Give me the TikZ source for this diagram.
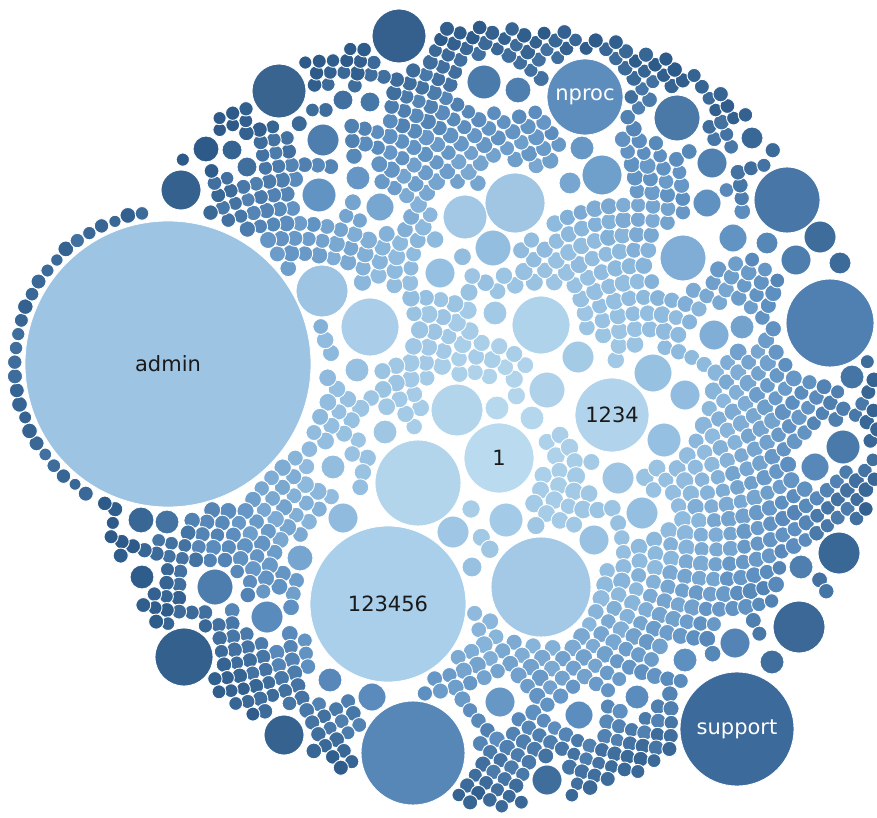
\documentclass[tikz,border=0pt]{standalone}
\usepackage{fontspec}
\setmainfont{DejaVu Sans}

% colour ramp from the light centre to the dark rim
\definecolor{gA}{HTML}{BADBEF}
\definecolor{gB}{HTML}{8DB9DD}
\definecolor{gC}{HTML}{5D8FC0}
\definecolor{gD}{HTML}{2D5A88}

\makeatletter
\newdimen\bbdx \newdimen\bbdy \newdimen\bbdd
\newif\ifbbhit
% does the circle (\px,\py) of radius \rs hit the circle #1,#2 of radius #3 ?
\newcommand\bbtest[3]{%
  \ifbbhit\else
    \bbdx=\dimexpr\px pt-#1pt\relax
    \ifdim\bbdx<0pt \bbdx=-\bbdx\fi
    \bbdd=\dimexpr#3pt+\rs pt+\bbgap pt\relax
    \ifdim\bbdx<\bbdd
      \bbdy=\dimexpr\py pt-#2pt\relax
      \ifdim\bbdy<0pt \bbdy=-\bbdy\fi
      \ifdim\bbdy<\bbdd
        \bbdx=0.25\bbdx \bbdy=0.25\bbdy \bbdd=0.25\bbdd
        \ifdim\dimexpr\strip@pt\bbdx\bbdx+\strip@pt\bbdy\bbdy\relax<\dimexpr\strip@pt\bbdd\bbdd\relax
          \global\bbhittrue
        \fi
      \fi
    \fi
  \fi}
\makeatother
\def\bbgap{1}

% shade for a relative distance #1 from the centre (0 = centre, 1 = rim)
\newcommand\pickshade[1]{%
  \pgfmathsetmacro\shT{min(max(#1,0),1)}%
  \ifdim\shT pt<0.5pt
    \pgfmathtruncatemacro\shP{200*\shT}\colorlet{shc}{gB!\shP!gA}%
  \else\ifdim\shT pt<0.75pt
    \pgfmathtruncatemacro\shP{400*(\shT-0.5)}\colorlet{shc}{gC!\shP!gB}%
  \else
    \pgfmathtruncatemacro\shP{400*(\shT-0.75)}\colorlet{shc}{gD!\shP!gC}%
  \fi\fi}

% labelled bubbles (also drawn as nodes below)
\newcommand\labelledbubbles{%
  \bbtest{168}{364}{143}\bbtest{388}{604}{78}\bbtest{499}{458}{35}%
  \bbtest{612}{415}{37}\bbtest{737}{729}{57}\bbtest{585}{97}{38}}

% large bubbles with their own colour
\newcommand\bigbubbles{%
  \bb{541}{587}{50}{A3C9E6}\bb{418}{483}{43}{B2D5EC}\bb{413}{753}{52}{5687B6}%
  \bb{830}{323}{44}{4F80B1}\bb{787}{200}{33}{4876A6}\bb{399}{36}{27}{35608E}%
  \bb{279}{91}{27}{38648F}\bb{184}{657}{29}{34608E}\bb{799}{627}{26}{3B6896}%
  \bb{541}{325}{29}{B0D3EC}\bb{370}{327}{29}{AACEE9}\bb{515}{203}{30}{A0C6E4}%
  \bb{322}{291}{26}{9DC4E2}\bb{457}{410}{26}{B3D5EC}\bb{465}{217}{22}{A2C8E5}%
  \bb{284}{735}{20}{36628F}\bb{181}{190}{20}{35618E}\bb{677}{118}{23}{4A79A8}%
  \bb{839}{553}{21}{3A6896}\bb{683}{258}{23}{7FADD6}}

% medium bubbles, shaded by position
\newcommand\midbubbles{%
  \mb{493}{248}{18}\mb{215}{587}{18}\mb{267}{617}{16}\mb{653}{373}{19}%
  \mb{685}{395}{15}\mb{714}{335}{15}\mb{578}{357}{16}\mb{664}{440}{17}%
  \mb{618}{478}{16}\mb{642}{513}{16}\mb{547}{390}{18}\mb{506}{520}{17}%
  \mb{453}{532}{16}\mb{594}{540}{15}\mb{343}{518}{15}\mb{300}{558}{13}%
  \mb{372}{697}{14}\mb{500}{702}{15}\mb{579}{715}{14}\mb{547}{780}{15}%
  \mb{735}{643}{15}\mb{801}{567}{12}\mb{772}{662}{12}\mb{685}{660}{12}%
  \mb{637}{697}{12}\mb{843}{447}{17}\mb{815}{467}{14}\mb{852}{377}{12}%
  \mb{742}{327}{12}\mb{820}{237}{16}\mb{796}{260}{15}\mb{712}{163}{15}%
  \mb{707}{203}{14}\mb{733}{238}{14}\mb{602}{175}{20}\mb{582}{148}{12}%
  \mb{570}{183}{11}\mb{484}{82}{17}\mb{518}{90}{13}\mb{323}{140}{16}%
  \mb{319}{195}{17}\mb{358}{178}{12}\mb{380}{207}{14}\mb{440}{273}{15}%
  \mb{206}{149}{13}\mb{247}{167}{10}\mb{232}{150}{10}\mb{343}{100}{10}%
  \mb{370}{102}{10}\mb{495}{313}{12}\mb{357}{370}{12}\mb{385}{432}{12}%
  \mb{333}{467}{12}\mb{141}{520}{13}\mb{167}{522}{12}\mb{142}{577}{12}%
  \mb{330}{680}{12}\mb{472}{567}{10}\mb{752}{138}{11}\mb{767}{243}{11}%
  \mb{840}{263}{11}\mb{497}{408}{12}\mb{532}{418}{12}}

\newcommand\blockers{%
  \def\bb##1##2##3##4{\bbtest{##1}{##2}{##3}}%
  \def\mb##1##2##3{\bbtest{##1}{##2}{##3}}%
  \labelledbubbles\bigbubbles\midbubbles}

\tikzset{
  bub/.style={draw=white, line width=0.9pt},
  bubble/.style={circle, draw=white, line width=0.8pt, inner sep=0pt,
    font=\fontsize{21}{25}\selectfont},
}

\begin{document}
\begin{tikzpicture}[x=1pt, y=-1pt]
  \useasboundingbox (0,0) rectangle (877,818);
  \fill[white] (0,0) rectangle (877,818);

  % small bubbles: a sunflower packing that skips the larger bubbles
  \pgfmathsetseed{11}
  \gdef\ang{0}\gdef\rsq{0}
  \foreach \k in {1,...,3700}{%
    \pgfmathsetmacro\rr{10*sqrt(\rsq)}%
    \pgfmathsetmacro\dd{17-3.5*(\rr/400)*(\rr/400)}%
    \pgfmathsetmacro\nr{\rsq+0.002757*\dd*\dd}%
    \xdef\rsq{\nr}%
    \pgfmathsetmacro\na{mod(\ang+137.50776,360)}%
    \xdef\ang{\na}%
    \ifdim\rr pt<440pt
      \pgfmathsetmacro\px{505+\rr*cos(\ang)}%
      \pgfmathsetmacro\py{420+\rr*sin(\ang)}%
      \pgfmathsetmacro\rs{\dd*(0.49+0.08*rnd)}%
      \pgfmathsetmacro\rb{394-20*cos(\ang)-9*sin(\ang)+6*sin(5*\ang+30)}%
      \ifdim\dimexpr\rr pt+0.5\dimexpr\rs pt\relax\relax<\rb pt
        \global\bbhitfalse
        \blockers
        \ifbbhit\else
          \pickshade{\rr/400+0.08*(rnd-0.5)}%
          \fill[bub, fill=shc] (\px,\py) circle[radius=\rs];
        \fi
      \fi
    \fi
  }

  % ring of small bubbles hugging the admin bubble
  \foreach \a in {80,85.3,...,285}{%
    \pgfmathsetmacro\rs{6+2*rnd}%
    \pgfmathsetmacro\px{168+(146+\rs)*cos(\a)}%
    \pgfmathsetmacro\py{364+(146+\rs)*sin(\a)}%
    \pgfmathsetmacro\ca{atan2(\py-420,\px-505)}%
    \pgfmathsetmacro\cd{veclen(\px-505,\py-420)}%
    \pgfmathsetmacro\rb{394-20*cos(\ca)-9*sin(\ca)+6*sin(5*\ca+30)}%
    \ifdim\cd pt>\rb pt
      \global\bbhitfalse
      \blockers
      \ifbbhit\else
        \pgfmathtruncatemacro\shP{55+35*rnd}\colorlet{shc}{gD!\shP!gC}%
        \fill[bub, fill=shc] (\px,\py) circle[radius=\rs];
      \fi
    \fi
  }

  % medium bubbles
  \def\mb#1#2#3{%
    \pgfmathsetmacro\tmpt{veclen(#1-505,#2-420)/400}%
    \pickshade{\tmpt}%
    \fill[bub, fill=shc] (#1,#2) circle[radius=#3];}
  \midbubbles

  % large bubbles
  \def\bb#1#2#3#4{%
    \definecolor{bbc}{HTML}{#4}%
    \fill[bub, fill=bbc] (#1,#2) circle[radius=#3];}
  \bigbubbles

  % labelled bubbles
  \node[bubble, fill={rgb,255:red,157;green,196;blue,226}, minimum size=286pt,
        text={rgb,255:red,26;green,26;blue,26}] (admin) at (168,364) {admin};
  \node[bubble, fill={rgb,255:red,169;green,207;blue,234}, minimum size=156pt,
        text={rgb,255:red,26;green,26;blue,26}] (n123456) at (388,604) {123456};
  \node[bubble, fill={rgb,255:red,185;green,218;blue,239}, minimum size=70pt,
        text={rgb,255:red,26;green,26;blue,26}] (n1) at (499,458) {1};
  \node[bubble, fill={rgb,255:red,177;green,212;blue,236}, minimum size=74pt,
        text={rgb,255:red,26;green,26;blue,26}] (n1234) at (612,415) {1234};
  \node[bubble, fill={rgb,255:red,60;green,106;blue,154}, minimum size=114pt,
        text=white] (support) at (737,729) {support};
  \node[bubble, fill={rgb,255:red,93;green,141;blue,189}, minimum size=76pt,
        text=white] (nproc) at (585,97) {nproc};
\end{tikzpicture}
\end{document}
